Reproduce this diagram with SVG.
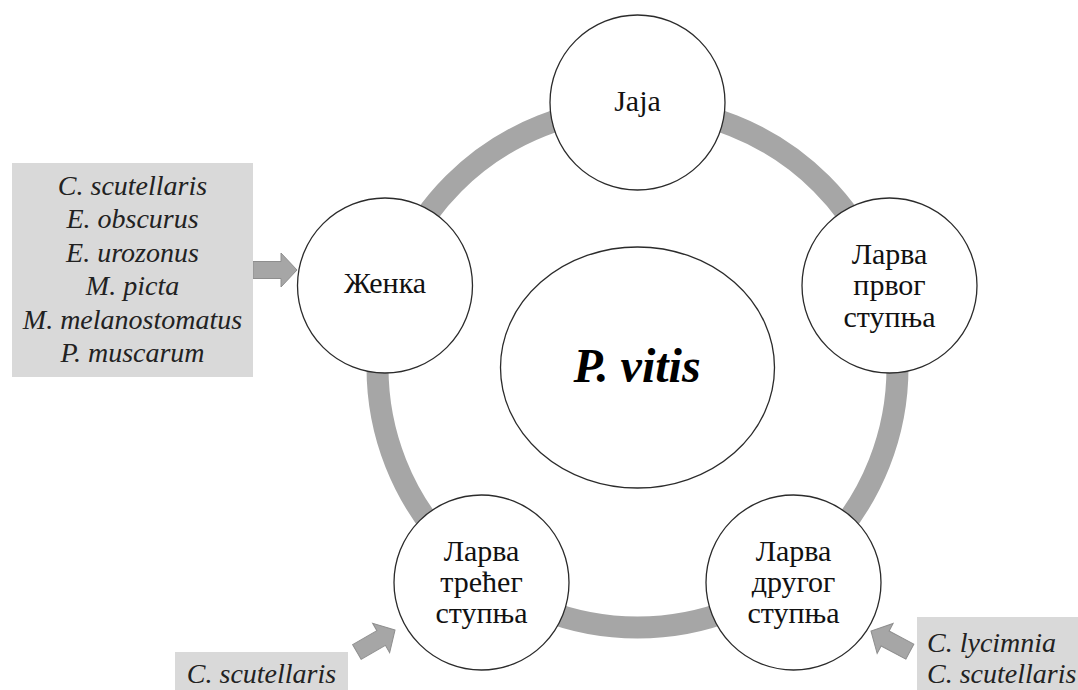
<svg xmlns="http://www.w3.org/2000/svg" xmlns:xlink="http://www.w3.org/1999/xlink" width="1078" height="690" viewBox="0 0 1078 690">
  <style>
    .stage { fill: #ffffff; stroke: #2b2b2b; stroke-width: 1.3; }
    .serif { font-family: "Liberation Serif", "Times New Roman", Times, serif; }
    .label { font-size: 30px; fill: #111111; text-anchor: middle; }
    .title { font-size: 48px; font-weight: bold; font-style: italic; fill: #000000; text-anchor: middle; }
    .species { font-size: 28px; font-style: italic; fill: #222222; }
    .panel { fill: #d9d9d9; }
    .cycle { fill: none; stroke: #a6a6a6; stroke-width: 22; }
    .pointer { fill: #a6a6a6; stroke: #8e8e8e; stroke-width: 1; }
  </style>
  <defs>
    <!-- block arrow, tip at origin, pointing along +x -->
    <path id="blockArrow" d="M0,0 L-16,-17 L-16,-8.5 L-44,-8.5 L-44,8.5 L-16,8.5 L-16,17 Z"/>
  </defs>

  <rect width="1078" height="690" fill="#ffffff"/>

  <g id="connectors">
    <circle class="cycle" cx="637.5" cy="367.5" r="260"/>
    <use class="pointer" xlink:href="#blockArrow" transform="translate(297,270)"/>
    <use class="pointer" xlink:href="#blockArrow" transform="translate(395,630) rotate(-30)"/>
    <use class="pointer" xlink:href="#blockArrow" transform="translate(871,631) rotate(-152)"/>
  </g>

  <g id="center">
    <ellipse class="stage" cx="637.5" cy="367.5" rx="137" ry="120.5"/>
    <text class="serif title" x="637" y="382">P. vitis</text>
  </g>

  <g id="eggs">
    <circle class="stage" cx="637.5" cy="102.5" r="87.5"/>
    <text class="serif label" x="637.5" y="111">Jaja</text>
  </g>

  <g id="larva1">
    <circle class="stage" cx="889.5" cy="285.5" r="87.5"/>
    <text class="serif label" x="889.5" y="263.5">Ларва<tspan x="889.5" dy="31.5">првог</tspan><tspan x="889.5" dy="31.5">ступња</tspan></text>
  </g>

  <g id="larva2">
    <circle class="stage" cx="793.5" cy="582.5" r="87.5"/>
    <text class="serif label" x="793.5" y="560.5">Ларва<tspan x="793.5" dy="31">другог</tspan><tspan x="793.5" dy="31">ступња</tspan></text>
  </g>

  <g id="larva3">
    <circle class="stage" cx="481.5" cy="582.5" r="87.5"/>
    <text class="serif label" x="481.5" y="560.5">Ларва<tspan x="481.5" dy="31">трећег</tspan><tspan x="481.5" dy="31">ступња</tspan></text>
  </g>

  <g id="female">
    <circle class="stage" cx="385" cy="285.5" r="87.5"/>
    <text class="serif label" x="385" y="293">Женка</text>
  </g>

  <g id="parasitoids-female">
    <rect class="panel" x="12" y="163" width="241" height="214"/>
    <text class="serif species" x="132.5" y="195" text-anchor="middle">C. scutellaris<tspan x="132.5" dy="33.4">E. obscurus</tspan><tspan x="132.5" dy="33.4">E. urozonus</tspan><tspan x="132.5" dy="33.4">M. picta</tspan><tspan x="132.5" dy="33.4">M. melanostomatus</tspan><tspan x="132.5" dy="33.4">P. muscarum</tspan></text>
  </g>

  <g id="parasitoids-larva2">
    <rect class="panel" x="917" y="617" width="161" height="73"/>
    <text class="serif species" x="927" y="652">C. lycimnia<tspan x="927" dy="31">C. scutellaris</tspan></text>
  </g>

  <g id="parasitoids-larva3">
    <rect class="panel" x="175" y="652" width="173" height="38"/>
    <text class="serif species" x="261.5" y="683" text-anchor="middle">C. scutellaris</text>
  </g>
</svg>
